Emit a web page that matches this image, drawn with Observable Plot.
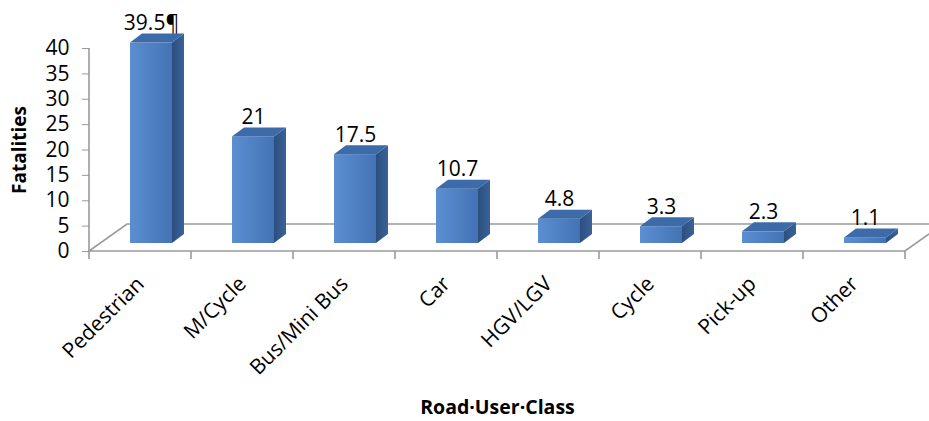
<!DOCTYPE html>
<html><head><meta charset="utf-8">
<script src="https://cdn.jsdelivr.net/npm/d3@7"></script>
<script src="https://cdn.jsdelivr.net/npm/@observablehq/plot@0.6"></script>
<style>html,body{margin:0;padding:0;background:#fff} svg{display:block}</style>
</head><body><div id="chart"></div>
<script>
// ---- data ----
const categories = ["Pedestrian", "M/Cycle", "Bus/Mini Bus", "Car", "HGV/LGV", "Cycle", "Pick-up", "Other"];
const fatalities = [39.5, 21, 17.5, 10.7, 4.8, 3.3, 2.3, 1.1];
const valueLabels = ["39.5¶", "21", "17.5", "10.7", "4.8", "3.3", "2.3", "1.1"];
const yTicks = [0, 5, 10, 15, 20, 25, 30, 35, 40];
const yTitle = "Fatalities";
const xTitle = "Road·User·Class";

const data = categories.map((c, i) => ({category: c, value: fatalities[i], label: valueLabels[i]}));

// ---- 3D look (pixel styling) ----
const inset = 30;             // bar inset inside band
const barOff = [11, -8];      // bar front offset from floor front
const barDepth = [12, -9];    // bar depth
const floorDepth = [38, -27]; // floor depth
const gridColor = "#9a9a9a";

function defs() {
  const d = d3.create("svg:defs");
  const g = d.append("linearGradient").attr("id", "frontGrad").attr("x1", 0).attr("x2", 1).attr("y1", 0).attr("y2", 0);
  g.append("stop").attr("offset", "0%").attr("stop-color", "#5b8fd2");
  g.append("stop").attr("offset", "100%").attr("stop-color", "#4373b4");
  const s = d.append("linearGradient").attr("id", "sideGrad").attr("x1", 0).attr("x2", 1).attr("y1", 0).attr("y2", 0);
  s.append("stop").attr("offset", "0%").attr("stop-color", "#2c4f7e");
  s.append("stop").attr("offset", "100%").attr("stop-color", "#3a629a");
  return d.node();
}

function floor(index, scales, values, dims) {
  const {x, y} = scales;
  const xa = dims.marginLeft, xb = dims.width - dims.marginRight, y0 = y(0);
  const bw = x(categories[1]) - x(categories[0]);
  const g = d3.create("svg:g").attr("fill", "none").attr("stroke", gridColor).attr("stroke-width", 1.6);
  g.append("path").attr("d",
    `M${xa},${y0}L${xb},${y0}L${xb + floorDepth[0]},${y0 + floorDepth[1]}L${xa + floorDepth[0]},${y0 + floorDepth[1]}Z`);
  // value axis line
  g.append("path").attr("d", `M${xa},${y(0)}V${y(yTicks[yTicks.length - 1])}`);
  // category boundary ticks
  const bounds = categories.map(c => x(c)).concat([x(categories[categories.length - 1]) + bw]);
  for (const b of bounds) g.append("path").attr("d", `M${b},${y0}v8`);
  return g.node();
}

function faces(index, scales) {
  const {x, y} = scales;
  const bw = x(categories[1]) - x(categories[0]);
  const g = d3.create("svg:g");
  for (const d of data) {
    const x0 = x(d.category) + inset + barOff[0];
    const x1 = x(d.category) + bw - inset + barOff[0];
    const yb = y(0) + barOff[1], yt = y(d.value) + barOff[1];
    const [ddx, ddy] = barDepth;
    g.append("path").attr("fill", "url(#sideGrad)")
      .attr("d", `M${x1},${yb}L${x1 + ddx},${yb + ddy}L${x1 + ddx},${yt + ddy}L${x1},${yt}Z`);
    g.append("path").attr("fill", "#3d6ba9")
      .attr("d", `M${x0},${yt}L${x0 + ddx},${yt + ddy}L${x1 + ddx},${yt + ddy}L${x1},${yt}Z`);
  }
  return g.node();
}

const chart = Plot.plot({
  width: 929,
  height: 421,
  marginLeft: 89,
  marginRight: 24,
  marginTop: 48,
  marginBottom: 170,
  style: {fontFamily: "'Open Sans', sans-serif", fontSize: "20px", background: "#fff", color: "#000"},
  x: {type: "band", domain: categories, padding: 0, axis: null},
  y: {domain: [0, 40]},
  marks: [
    defs,
    floor,
    Plot.barY(data, {x: "category", y: "value", insetLeft: inset, insetRight: inset,
      dx: barOff[0], dy: barOff[1], fill: "url(#frontGrad)"}),
    faces,
    Plot.text(data, {x: "category", y: "value", text: "label", dx: 11, dy: -21,
      lineAnchor: "bottom", fontSize: 21, fill: "#000"}),
    Plot.axisY(yTicks, {tickSize: 7, tickPadding: 13, fontSize: 21, stroke: gridColor, fill: "#000", label: null}),
    Plot.text(categories, {x: d => d, text: d => d, frameAnchor: "bottom", rotate: -45,
      textAnchor: "end", lineAnchor: "middle", dx: 0, dy: 29, fontSize: 21, fill: "#000"}),
    Plot.text([xTitle], {text: d => d, frameAnchor: "bottom", textAnchor: "middle", lineAnchor: "bottom",
      dy: 162, fontSize: 19.5, fontWeight: "bold", fill: "#000"}),
    Plot.text([yTitle], {text: d => d, frameAnchor: "left", textAnchor: "middle", lineAnchor: "middle",
      dx: -70, rotate: -90, fontSize: 19, fontWeight: "bold", fill: "#000"})
  ]
});
document.getElementById("chart").append(chart);
</script>
</body></html>
